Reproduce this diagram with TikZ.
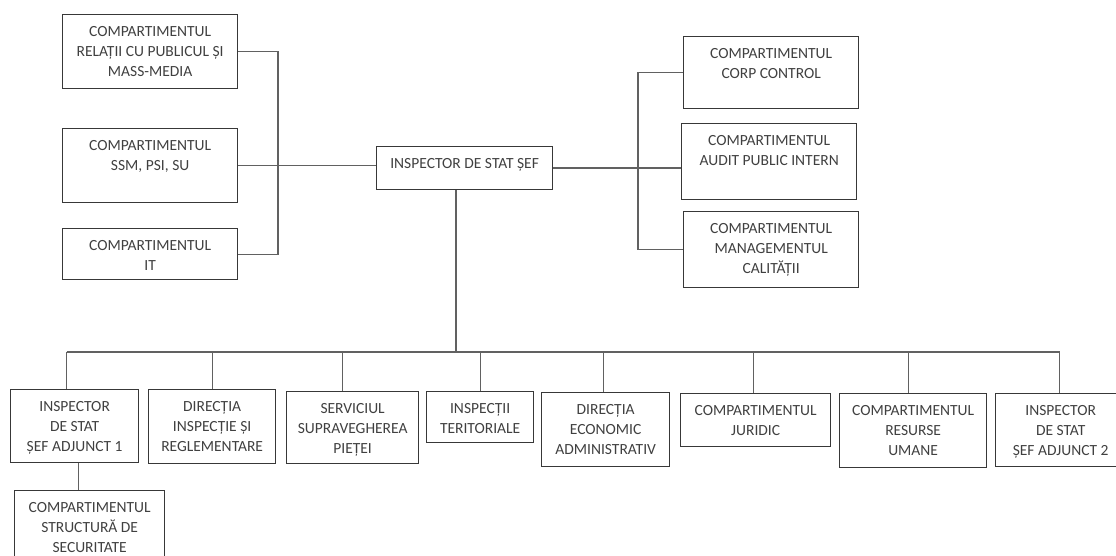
\documentclass[tikz,border=0pt]{standalone}
\usepackage{fontspec}
\setmainfont{Carlito}
\usepackage{tikz}
\usetikzlibrary{calc}

\definecolor{linie}{gray}{0.38}
\definecolor{chenar}{gray}{0.22}
\definecolor{scris}{gray}{0.25}

% text box: width, height, text (first line near the top)
\newcommand{\caseta}[3]{\parbox[c][#2pt][t]{#1pt}{\centering\rule{0pt}{22pt}#3\par}}

\begin{document}
\begin{tikzpicture}[x=1pt,y=-1pt,
    cutie/.style={draw=chenar, line width=1.3pt, anchor=north west, inner sep=0pt,
      text=scris, font=\fontsize{15.5}{20}\selectfont},
    leg/.style={draw=linie, line width=1.3pt}]
    \useasboundingbox (0,0) rectangle (1116,556);
    \clip (0,0) rectangle (1116,556);

    % left column
    \node[cutie] (relatii) at (62,14) {\caseta{175}{74}{COMPARTIMENTUL\\RELAȚII CU PUBLICUL ȘI\\MASS-MEDIA}};
    \node[cutie] (ssm) at (62,128) {\caseta{175}{74}{COMPARTIMENTUL\\SSM, PSI, SU}};
    \node[cutie] (it) at (62,228) {\caseta{175}{51}{COMPARTIMENTUL\\IT}};

    % head
    \node[cutie] (sef) at (376,146) {\caseta{176}{43}{INSPECTOR DE STAT ȘEF}};

    % right column
    \node[cutie] (corp) at (683,36) {\caseta{175}{72}{COMPARTIMENTUL\\CORP CONTROL}};
    \node[cutie] (audit) at (681,123) {\caseta{175}{76}{COMPARTIMENTUL\\AUDIT PUBLIC INTERN}};
    \node[cutie] (calitate) at (683,211) {\caseta{175}{76}{COMPARTIMENTUL\\MANAGEMENTUL\\CALITĂȚII}};

    % bottom row
    \node[cutie] (insp1) at (10,389) {\caseta{128}{73}{INSPECTOR\\DE STAT\\ȘEF ADJUNCT 1}};
    \node[cutie] (dir) at (148,389) {\caseta{127}{74}{DIRECȚIA\\INSPECȚIE ȘI\\REGLEMENTARE}};
    \node[cutie] (serv) at (286,391) {\caseta{132}{72}{SERVICIUL\\SUPRAVEGHEREA\\PIEȚEI}};
    \node[cutie] (teritoriale) at (426,391) {\caseta{107}{51}{INSPECȚII\\TERITORIALE}};
    \node[cutie] (economic) at (541,392) {\caseta{128}{74}{DIRECȚIA\\ECONOMIC\\ADMINISTRATIV}};
    \node[cutie] (juridic) at (680,393) {\caseta{150}{53}{COMPARTIMENTUL\\JURIDIC}};
    \node[cutie] (resurse) at (839,393) {\caseta{147}{74}{COMPARTIMENTUL\\RESURSE\\UMANE}};
    \node[cutie] (insp2) at (995,393) {\caseta{130}{73}{INSPECTOR\\DE STAT\\ȘEF ADJUNCT 2}};
    \node[cutie] (structura) at (14,490) {\caseta{150}{80}{COMPARTIMENTUL\\STRUCTURĂ DE\\SECURITATE}};

    % links to the head
    \coordinate (nodst) at (278,166);
    \draw[leg] (relatii.east) -| (nodst) |- (it.east);
    \draw[leg] (ssm.east) -- (ssm.east -| sef.west);
    \coordinate (noddr) at (638,166);
    \draw[leg] (corp.west) -| (noddr) |- (calitate.west);
    \draw[leg] (sef.east) -- (sef.east -| audit.west);

    % bus to the bottom row
    \coordinate (magistrala) at (456,352);
    \draw[leg] (magistrala |- sef.south) -- (magistrala);
    \draw[leg] ([xshift=-8]insp1.north |- magistrala) -- ([xshift=-1]insp2.north |- magistrala);
    \foreach \n/\dx in {insp1/-8, dir/0, serv/-10, teritoriale/0, economic/-2, juridic/-2, resurse/-5, insp2/-1}
      \draw[leg] ([xshift=\dx]\n.north) -- ([xshift=\dx]\n.north |- magistrala);
    \draw[leg] ([xshift=4]insp1.south) -- ([xshift=4]insp1.south |- structura.north);

\end{tikzpicture}
\end{document}
